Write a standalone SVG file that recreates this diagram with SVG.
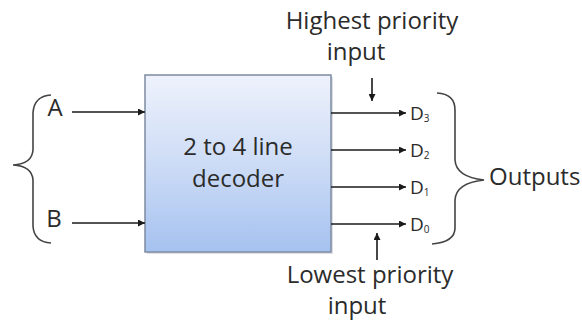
<svg xmlns="http://www.w3.org/2000/svg" width="582" height="320" viewBox="0 0 582 320">
<defs>
<linearGradient id="boxg" x1="0" y1="0" x2="0" y2="1">
<stop offset="0" stop-color="#eef2fc"/>
<stop offset="0.5" stop-color="#cddcf6"/>
<stop offset="1" stop-color="#a6c2f0"/>
</linearGradient>
<marker id="ah" viewBox="0 0 10 10" refX="10" refY="5" markerWidth="9" markerHeight="7" markerUnits="userSpaceOnUse" orient="auto">
<path d="M0,0 L10,5 L0,10 z" fill="#1a1a1a"/>
</marker>
<style>
text{font-family:"Open Sans","Noto Sans","Liberation Sans",sans-serif;fill:#2b2b2b}
.lbl{font-size:24px}
.d{font-size:19px}
.sub{font-size:10px}
.wire{stroke:#1a1a1a;stroke-width:1.6;fill:none;marker-end:url(#ah)}
.brace{stroke:#444;stroke-width:1.6;fill:none}
</style>
</defs>
<rect width="582" height="320" fill="#ffffff"/>
<g id="decoder">
<rect x="147" y="77" width="186" height="177" fill="#9aa6b8" opacity="0.35"/>
<rect x="145" y="75" width="186" height="177" fill="url(#boxg)" stroke="#7d8ba0" stroke-width="1.5"/>
<text class="lbl" x="238" y="155" text-anchor="middle" fill="#1e2633">2 to 4 line</text>
<text class="lbl" x="238" y="187" text-anchor="middle" fill="#1e2633">decoder</text>
</g>
<g id="inputs">
<path class="brace" d="M51,95 Q34,96 33,113 L33,150 Q32,164 13,165 Q32,166 33,180 L33,226 Q34,242 51,243"/>
<text class="lbl" x="55" y="116" text-anchor="middle">A</text>
<text class="lbl" x="54" y="227" text-anchor="middle">B</text>
</g>
<g id="outputs">
<text class="d" x="410" y="120">D<tspan class="sub" dy="2">3</tspan></text>
<text class="d" x="410" y="157">D<tspan class="sub" dy="2">2</tspan></text>
<text class="d" x="410" y="194">D<tspan class="sub" dy="2">1</tspan></text>
<text class="d" x="410" y="231">D<tspan class="sub" dy="2">0</tspan></text>
<path class="brace" d="M437,93 Q455,94 455,110 L455,160 Q456,177 484,180 Q456,183 455,200 L455,228 Q455,242 432,244"/>
<text class="lbl" x="489" y="185">Outputs</text>
</g>
<g id="highest">
<text class="lbl" x="372" y="29" text-anchor="middle">Highest priority</text>
<text class="lbl" x="356" y="60" text-anchor="middle">input</text>
</g>
<g id="lowest">
<text class="lbl" x="370" y="283" text-anchor="middle">Lowest priority</text>
<text class="lbl" x="357" y="314" text-anchor="middle">input</text>
</g>
<g id="connectors">
<line class="wire" x1="72" y1="112" x2="145" y2="112"/>
<line class="wire" x1="72" y1="223" x2="145" y2="223"/>
<line class="wire" x1="331" y1="113" x2="406" y2="113"/>
<line class="wire" x1="331" y1="150" x2="406" y2="150"/>
<line class="wire" x1="331" y1="187" x2="406" y2="187"/>
<line class="wire" x1="331" y1="224" x2="406" y2="224"/>
<line class="wire" x1="372" y1="78" x2="372" y2="101"/>
<line class="wire" x1="377" y1="260" x2="377" y2="233"/>
</g>
</svg>
